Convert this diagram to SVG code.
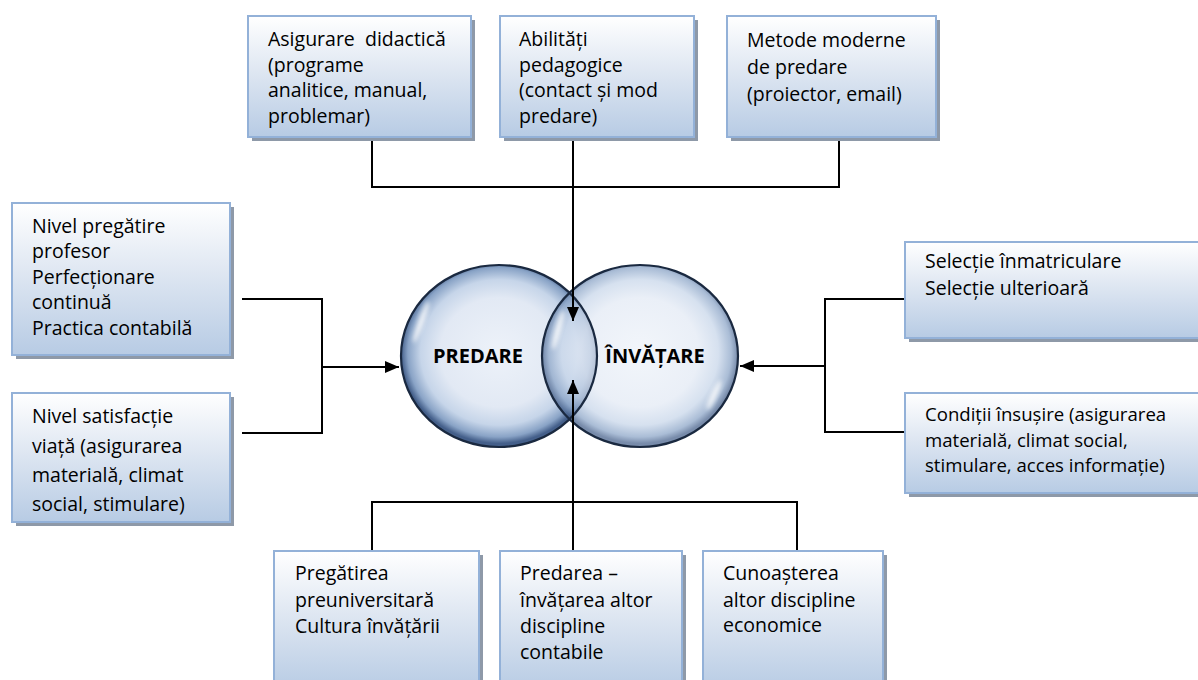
<svg xmlns="http://www.w3.org/2000/svg" width="1198" height="680" viewBox="0 0 1198 680">
<defs>
<linearGradient id="boxg" x1="0" y1="0" x2="0" y2="1">
<stop offset="0" stop-color="#ffffff"/>
<stop offset="0.45" stop-color="#dfe7f2"/>
<stop offset="1" stop-color="#b7cbe4"/>
</linearGradient>
<radialGradient id="bub" cx="0.5" cy="0.48" r="0.5">
<stop offset="0" stop-color="#edf2f9"/>
<stop offset="0.6" stop-color="#e2e9f4"/>
<stop offset="0.8" stop-color="#c6d5e9"/>
<stop offset="0.93" stop-color="#89a3c6"/>
<stop offset="1" stop-color="#445f8a"/>
</radialGradient>
<filter id="blur" x="-50%" y="-50%" width="200%" height="200%"><feGaussianBlur stdDeviation="2"/></filter>
<marker id="arr" viewBox="0 0 14 12" refX="14" refY="6" markerWidth="14" markerHeight="12" markerUnits="userSpaceOnUse" orient="auto">
<path d="M0,0 L14,6 L0,12 z" fill="#000"/>
</marker>
<style>
.box{fill:url(#boxg);stroke:#93b1d8;stroke-width:2}
.sh{fill:#8e99a8}
.t{font-family:"Open Sans","Noto Sans","Liberation Sans",sans-serif;font-size:19.5px;fill:#000}
.s{font-size:18.6px}
.c{font-family:"Open Sans","Noto Sans","Liberation Sans",sans-serif;font-size:20px;font-weight:700;fill:#000;text-anchor:middle}
.ln{fill:none;stroke:#000;stroke-width:2}
.ring{fill:none;stroke:#1a2940;stroke-width:2.2}
.hl{fill:#fff;opacity:0.8;filter:url(#blur)}
</style>
</defs>

<g id="circles">
<g id="predare">
<ellipse cx="499" cy="356" rx="98" ry="91" fill="url(#bub)"/>
</g>
<g id="invatare">
<ellipse cx="640" cy="356" rx="98" ry="91" fill="url(#bub)" fill-opacity="0.72"/>
</g>
<ellipse class="ring" cx="499" cy="356" rx="98" ry="91"/>
<ellipse class="ring" cx="640" cy="356" rx="98" ry="91"/>
<ellipse class="hl" cx="421" cy="322" rx="3" ry="22" transform="rotate(20 421 322)"/>
<ellipse class="hl" cx="558" cy="330" rx="3" ry="20" transform="rotate(15 558 330)"/>
<ellipse class="hl" cx="714" cy="395" rx="3" ry="16" transform="rotate(25 714 395)"/>
<text class="c" x="478" y="363">PREDARE</text>
<text class="c" x="655" y="363">ÎNVĂȚARE</text>
</g>

<g id="connectors">
<path class="ln" d="M372,137 V187 H839 V137"/>
<path class="ln" d="M573,137 V321" marker-end="url(#arr)"/>
<path class="ln" d="M242,299 H322 V433 H242"/>
<path class="ln" d="M322,367 H399" marker-end="url(#arr)"/>
<path class="ln" d="M905,299 H825 V432 H905"/>
<path class="ln" d="M825,366 H740" marker-end="url(#arr)"/>
<path class="ln" d="M372,551 V502 H797 V551"/>
<path class="ln" d="M573,551 V380" marker-end="url(#arr)"/>
</g>

<g id="top1">
<rect class="sh" x="252" y="20" width="223" height="121"/>
<rect class="box" x="248" y="16" width="223" height="121"/>
<text class="t" x="268" y="46" style="white-space:pre">Asigurare  didactică</text>
<text class="t" x="268" y="72">(programe</text>
<text class="t" x="268" y="97">analitice, manual,</text>
<text class="t" x="268" y="123">problemar)</text>
</g>
<g id="top2">
<rect class="sh" x="504" y="20" width="194" height="121"/>
<rect class="box" x="500" y="16" width="194" height="121"/>
<text class="t" x="519" y="46">Abilități</text>
<text class="t" x="519" y="72">pedagogice</text>
<text class="t" x="519" y="97">(contact și mod</text>
<text class="t" x="519" y="123">predare)</text>
</g>
<g id="top3">
<rect class="sh" x="731" y="20" width="209" height="121"/>
<rect class="box" x="727" y="16" width="209" height="121"/>
<text class="t" x="747" y="47">Metode moderne</text>
<text class="t" x="747" y="74">de predare</text>
<text class="t" x="747" y="101">(proiector, email)</text>
</g>

<g id="left1">
<rect class="sh" x="16" y="207" width="218" height="152"/>
<rect class="box" x="12" y="203" width="218" height="152"/>
<text class="t" x="32" y="233">Nivel pregătire</text>
<text class="t" x="32" y="258">profesor</text>
<text class="t" x="32" y="284">Perfecționare</text>
<text class="t" x="32" y="309">continuă</text>
<text class="t" x="32" y="335">Practica contabilă</text>
</g>
<g id="left2">
<rect class="sh" x="16" y="397" width="218" height="129"/>
<rect class="box" x="12" y="393" width="218" height="129"/>
<text class="t" x="32" y="423">Nivel satisfacție</text>
<text class="t" x="32" y="453">viață (asigurarea</text>
<text class="t" x="32" y="482">materială, climat</text>
<text class="t" x="32" y="511">social, stimulare)</text>
</g>

<g id="right1">
<rect class="sh" x="909" y="246" width="300" height="96"/>
<rect class="box" x="905" y="242" width="300" height="96"/>
<text class="t" x="925" y="268">Selecție înmatriculare</text>
<text class="t" x="925" y="295">Selecție ulterioară</text>
</g>
<g id="right2">
<rect class="sh" x="909" y="397" width="300" height="100"/>
<rect class="box" x="905" y="393" width="300" height="100"/>
<text class="t s" x="925" y="421">Condiții însușire (asigurarea</text>
<text class="t s" x="925" y="446.5">materială, climat social,</text>
<text class="t s" x="925" y="472">stimulare, acces informație)</text>
</g>

<g id="bottom1">
<rect class="sh" x="278" y="555" width="205" height="140"/>
<rect class="box" x="274" y="551" width="205" height="140"/>
<text class="t" x="295" y="580">Pregătirea</text>
<text class="t" x="295" y="607">preuniversitară</text>
<text class="t" x="295" y="633">Cultura învățării</text>
</g>
<g id="bottom2">
<rect class="sh" x="504" y="555" width="182" height="140"/>
<rect class="box" x="500" y="551" width="182" height="140"/>
<text class="t" x="520" y="580">Predarea –</text>
<text class="t" x="520" y="607">învățarea altor</text>
<text class="t" x="520" y="633">discipline</text>
<text class="t" x="520" y="659">contabile</text>
</g>
<g id="bottom3">
<rect class="sh" x="707" y="555" width="180" height="140"/>
<rect class="box" x="703" y="551" width="180" height="140"/>
<text class="t" x="723" y="580">Cunoașterea</text>
<text class="t" x="723" y="607">altor discipline</text>
<text class="t" x="723" y="632">economice</text>
</g>
</svg>
